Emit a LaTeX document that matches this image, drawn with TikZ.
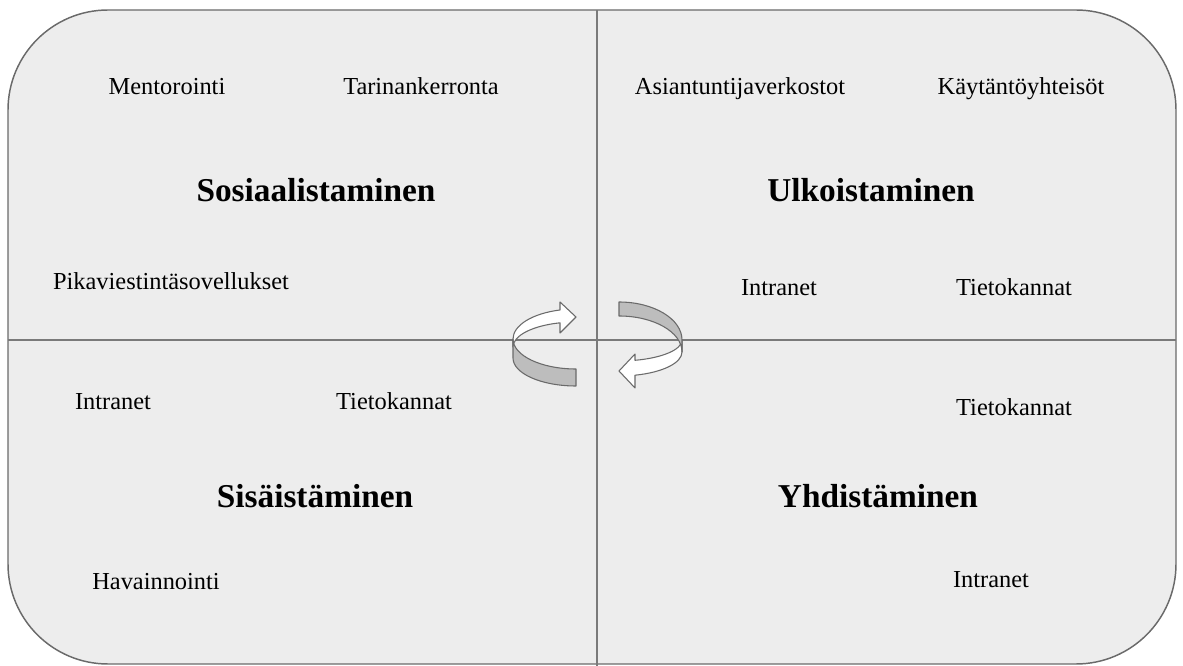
\documentclass[tikz,border=0pt]{standalone}
\usepackage{fontspec}
\setmainfont{Liberation Serif}
\definecolor{boxfill}{HTML}{EDEDED}
\definecolor{edge}{HTML}{6A6A6A}
\definecolor{divider}{HTML}{7A7A7A}
\definecolor{band}{HTML}{BDBDBD}
\begin{document}
\begin{tikzpicture}[x=0.75pt,y=-0.75pt,
  lbl/.style={anchor=base, inner sep=0pt, text=black, font=\fontsize{18.3}{22}\selectfont},
  ttl/.style={anchor=base, inner sep=0pt, text=black, font=\fontsize{25}{30}\selectfont\bfseries},
  arrowshape/.style={draw=edge, line width=0.8pt, line join=round},
  divline/.style={draw=divider, line width=0.8pt}]
\useasboundingbox (0,0) rectangle (1183,666);
% outer rounded box
\draw[fill=boxfill, draw=edge, line width=1.1pt, rounded corners=75pt] (8,10) rectangle (1176,664);
% dividers
\coordinate (vt) at (597,10);
\coordinate (vb) at (597,666);
\coordinate (hl) at (8,340);
\coordinate (hr) at (1176,340);
\draw[divline] (vt) -- (vb);
\draw[divline] (hl) -- (hr);

% left curved arrow: white back part with head
\draw[arrowshape, fill=white]
  (513,339) arc[start angle=180, end angle=255.3, x radius=63, y radius=30]
  -- (560,302) -- (576,317) -- (560,333)
  -- ([shift={(576,347)}]255.3:63 and 25)
  arc[start angle=255.3, end angle=180, x radius=63, y radius=25] -- cycle;
% left curved arrow: grey front band
\draw[arrowshape, fill=band]
  (513,339) arc[start angle=180, end angle=90, x radius=63, y radius=30]
  -- (576,386) arc[start angle=90, end angle=180, x radius=63, y radius=28] -- cycle;

% right curved arrow: white front part with head
\draw[arrowshape, fill=white]
  (682,340) arc[start angle=0, end angle=75.3, x radius=63, y radius=21]
  -- (635,354) -- (619,371) -- (635,388)
  -- ([shift={(619,352)}]75.3:63 and 24)
  arc[start angle=75.3, end angle=0, x radius=63, y radius=24] -- cycle;
% right curved arrow: grey back band
\draw[arrowshape, fill=band]
  (619,302) arc[start angle=270, end angle=360, x radius=63, y radius=38]
  -- (682,352) arc[start angle=0, end angle=-90, x radius=63, y radius=36] -- cycle;

% texts
\node[lbl] (ment) at (167,95) {Mentorointi};
\node[lbl] (tari) at (421,95) {Tarinankerronta};
\node[ttl] (sos) at (316,202) {Sosiaalistaminen};
\node[lbl] (pika) at (171,290) {Pikaviestintäsovellukset};

\node[lbl] (asi) at (740,95) {Asiantuntijaverkostot};
\node[lbl] (kay) at (1021,95) {Käytäntöyhteisöt};
\node[ttl] (ulk) at (871,202) {Ulkoistaminen};
\node[lbl] (intur) at (779,296) {Intranet};
\node[lbl] (tieur) at (1014,296) {Tietokannat};

\node[lbl] (intll) at (113,410) {Intranet};
\node[lbl] (tiell) at (394,410) {Tietokannat};
\node[ttl] (sis) at (315,508) {Sisäistäminen};
\node[lbl] (hav) at (156,590) {Havainnointi};

\node[lbl] (tielr) at (1014,416) {Tietokannat};
\node[ttl] (yhd) at (878,508) {Yhdistäminen};
\node[lbl] (intlr) at (991,588) {Intranet};
\end{tikzpicture}
\end{document}
